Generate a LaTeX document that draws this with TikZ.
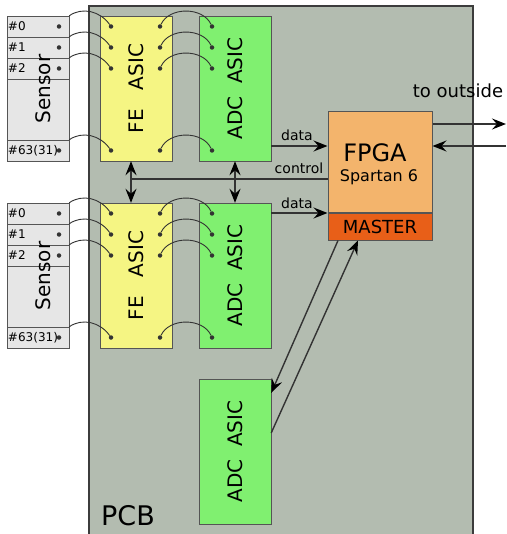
\documentclass[tikz,border=0pt]{standalone}
\usepackage{fontspec}
\setmainfont{DejaVu Sans}
\usetikzlibrary{arrows.meta}
\usetikzlibrary{positioning}
\usetikzlibrary{calc}
\definecolor{pcbgray}{HTML}{B3BCB0}
\definecolor{sensorgray}{HTML}{E6E6E6}
\definecolor{feyellow}{HTML}{F5F583}
\definecolor{adcgreen}{HTML}{80F070}
\definecolor{fpgaorange}{HTML}{F3B46C}
\definecolor{masterorange}{HTML}{E85F18}
\definecolor{edge}{HTML}{555555}
\definecolor{wirecol}{HTML}{333333}
\tikzstyle{pcb}=[draw=edge!70!black,line width=2pt,fill=pcbgray]
\tikzstyle{sensor}=[
        rectangle,
        draw=edge,
        fill=sensorgray,
        minimum width=62pt,
        minimum height=145pt,
        inner sep=0pt
]
\tikzstyle{channel}=[
        rectangle,
        draw=edge,
        fill=sensorgray,
        minimum width=62pt,
        minimum height=21pt,
        text width=60pt,
        inner xsep=1pt,
        inner ysep=0pt,
        align=left,
        font=\fontsize{12}{14}\selectfont
]
\tikzstyle{asic}=[rectangle,draw=edge,minimum width=72pt,minimum height=145pt,inner sep=0pt,font=\fontsize{20}{24}\selectfont]
\tikzstyle{feasic}=[asic,fill=feyellow]
\tikzstyle{adcasic}=[asic,fill=adcgreen]
\tikzstyle{fpga}=[rectangle,draw=edge,line width=1pt,fill=fpgaorange,minimum width=104pt,minimum height=101pt,inner sep=0pt]
\tikzstyle{master}=[rectangle,draw=edge,line width=1pt,fill=masterorange,minimum width=104pt,minimum height=26pt,inner sep=0pt,font=\fontsize{18}{20}\selectfont]
\tikzstyle{pin}=[circle,fill=wirecol,inner sep=0pt,minimum size=4.5pt]
\tikzstyle{wire}=[draw=wirecol,line width=0.9pt]
\tikzstyle{tag}=[inner sep=0pt,anchor=base,font=\fontsize{14}{16}\selectfont]
\tikzstyle{suite}=[->,>={Stealth[length=14pt,width=11pt,inset=5pt,color=black]},line width=1.4pt,draw=wirecol]

\begin{document}
\begin{tikzpicture}[x=1pt,y=1pt]
\useasboundingbox (0,0) rectangle (506,-534);
\draw[pcb] (89,-6) rectangle (473,-560);
\node[inner sep=0pt,anchor=base west,font=\fontsize{27}{30}\selectfont] (pcblabel) at (101,-525) {PCB};

\node[sensor] (sensa) at (38,-88.5) {};
\node[sensor] (sensb) at (38,-275.5) {};
\node[feasic] (fea) at (136,-88.5) {\rotatebox{90}{FE\ \ \ ASIC}};
\node[feasic] (feb) at (136,-275.5) {\rotatebox{90}{FE\ \ \ ASIC}};
\node[adcasic] (adca) at (235,-88.5) {\rotatebox{90}{ADC\ \ ASIC}};
\node[adcasic] (adcb) at (235,-275.5) {\rotatebox{90}{ADC\ \ ASIC}};
\node[adcasic] (adcc) at (235,-451.5) {\rotatebox{90}{ADC\ \ ASIC}};

\node[fpga] (fpga) at (380,-162.5) {};
\node[master,below=0pt of fpga] (master) {MASTER};
\node[inner sep=0pt,anchor=base,font=\fontsize{24}{26}\selectfont] (fpgalabel) at (375,-162) {FPGA};
\node[inner sep=0pt,anchor=base,font=\fontsize{16}{18}\selectfont] (spartan) at (379,-182) {Spartan 6};

% channels, pins and bond wires of both sensor rows
\foreach \s/\dy in {a/0,b/-187}{
  \foreach \r/\t/\y in {0/\#0/-26.5,1/\#1/-47.5,2/\#2/-68.5,63/\#63(31)/-150.5}{
    \node[channel] (chan-\s-\r) at (38,\y+\dy) {\t};
    \node[pin] (pins-\s-\r) at (59,\y+\dy) {};
    \node[pin] (pinfl-\s-\r) at (111,\y+\dy) {};
    \node[pin] (pinfr-\s-\r) at (160,\y+\dy) {};
    \node[pin] (pina-\s-\r) at (212,\y+\dy) {};
    \draw[wire] (chan-\s-\r.north east) to[out=35,in=125] (pinfl-\s-\r);
    \draw[wire] (pinfr-\s-\r) to[out=65,in=115] (pina-\s-\r);
  }
}
\node[rotate=90,anchor=base,inner sep=0pt,font=\fontsize{20}{24}\selectfont] (senslabela) at (50,-89) {Sensor};
\node[rotate=90,anchor=base,inner sep=0pt,font=\fontsize{20}{24}\selectfont] (senslabelb) at (50,-276) {Sensor};

%links to the FPGA
\coordinate (ctl) at (131,-179);
\coordinate (extout) at (506,-124);
\coordinate (extin) at (506,-146);
\draw[suite,<->] ([xshift=-5pt]fea.south) -- ([xshift=-5pt]feb.north);
\draw[suite,<->] (adca.south) -- (adcb.north);
\draw[suite,-] (ctl) -- (ctl -| fpga.west);
\draw[suite] ([yshift=-57.5pt]adca.east) -- ([yshift=-57.5pt]adca.east -| fpga.west);
\draw[suite] ([yshift=62.5pt]adcb.east) -- ([yshift=62.5pt]adcb.east -| fpga.west);
\draw[suite] (fpga.east |- extout) -- (extout);
\draw[suite] (extin) -- (fpga.east |- extin);
\draw[suite] ([xshift=-42pt]master.south) -- ([yshift=58.5pt]adcc.east);
\draw[suite] ([yshift=18.5pt]adcc.east) -- ([xshift=-22pt]master.south);
\node[tag] (dataa) at (297,-141) {data};
\node[tag] (control) at (299,-174) {control};
\node[tag] (datab) at (297,-208) {data};
\node[tag,font=\fontsize{18}{20}\selectfont] (outside) at (458,-98) {to outside};
\end{tikzpicture}
\end{document}
